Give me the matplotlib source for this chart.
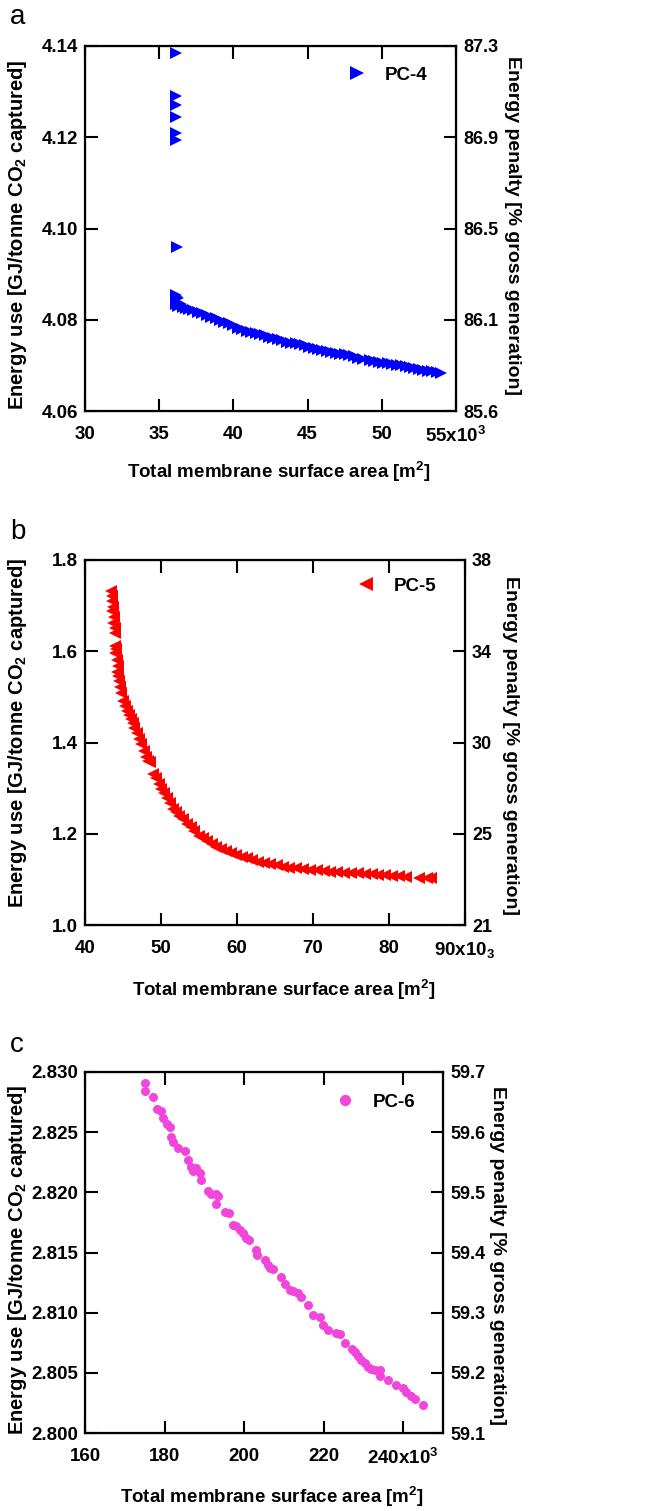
import matplotlib
matplotlib.use("Agg")

import matplotlib.pyplot as plt

plt.rcParams["font.family"] = ["Liberation Sans", "DejaVu Sans"]
plt.rcParams["font.weight"] = "bold"
plt.rcParams["mathtext.fontset"] = "custom"
plt.rcParams["mathtext.rm"] = "Liberation Sans:bold"
plt.rcParams["mathtext.it"] = "Liberation Sans:bold"
plt.rcParams["mathtext.bf"] = "Liberation Sans:bold"

# ─────────────────────────────────────────
#  DATA (area in 10^3 m2, energy use in GJ/t CO2)
# ─────────────────────────────────────────

# panel a : PC-4
pc4_x = [36.1, 36.15, 36.1, 36.15, 36.1, 36.15, 36.2, 36.1, 36.2, 36.3, 36.2,
         36.15, 36.3, 36.5, 36.6, 36.8, 37.0, 37.3, 37.6, 37.9, 38.2, 38.5,
         38.8, 39.1, 39.4, 39.7, 40.0, 40.3, 40.6, 40.9, 41.2, 41.5, 41.8,
         42.1, 42.4, 42.7, 43.0, 43.3, 43.6, 43.9, 44.2, 44.5, 44.8, 45.1,
         45.4, 45.7, 46.0, 46.3, 46.6, 46.9, 47.2, 47.5, 47.8, 48.1, 48.4,
         48.7, 49.2, 49.5, 49.8, 50.1, 50.4, 50.7, 51.0, 51.3, 51.6, 51.9,
         52.2, 52.5, 52.8, 53.1, 53.4, 53.7, 54.0]
pc4_y = [4.1385, 4.1290, 4.1270, 4.1245, 4.1210, 4.1195, 4.0960, 4.0855,
         4.0850, 4.0848, 4.0840, 4.0835, 4.0830, 4.0834, 4.0828, 4.0826,
         4.0824, 4.0822, 4.0818, 4.0814, 4.0810, 4.0806, 4.0803, 4.0800,
         4.0796, 4.0792, 4.0788, 4.0783, 4.0780, 4.0776, 4.0773, 4.0771,
         4.0768, 4.0766, 4.0763, 4.0760, 4.0757, 4.0755, 4.0752, 4.0750,
         4.0748, 4.0746, 4.0744, 4.0740, 4.0738, 4.0736, 4.0734, 4.0732,
         4.0730, 4.0728, 4.0726, 4.0724, 4.0722, 4.0720, 4.0717, 4.0713,
         4.0712, 4.0710, 4.0708, 4.0706, 4.0705, 4.0703, 4.0701, 4.0700,
         4.0698, 4.0697, 4.0695, 4.0692, 4.0689, 4.0688, 4.0687, 4.0686,
         4.0684]

# panel b : PC-5
pc5_x = [43.4, 43.6, 43.5, 43.7, 43.6, 43.8, 43.7, 43.9, 44.0, 43.9, 44.1,
         44.0, 44.2, 44.3, 44.2, 44.4, 44.5, 44.6, 44.8, 45.0, 45.3, 45.5,
         45.8, 46.0, 46.3, 46.5, 46.8, 47.1, 47.4, 47.7, 48.0, 48.3, 48.6,
         49.0, 49.3, 49.7, 50.0, 50.4, 50.8, 51.2, 51.6, 52.0, 52.4, 52.9,
         53.4, 53.9, 54.4, 55.0, 55.5, 56.1, 56.7, 57.3, 57.9, 58.5, 59.2,
         59.9, 60.6, 61.3, 62.0, 62.8, 63.6, 64.4, 65.2, 66.0, 66.9, 67.8,
         68.7, 69.6, 70.5, 71.4, 72.3, 73.2, 74.1, 75.0, 75.9, 76.8, 77.7,
         78.6, 79.5, 80.4, 81.3, 82.2, 84.0, 85.0, 85.5]
pc5_y = [1.732, 1.722, 1.710, 1.698, 1.688, 1.675, 1.662, 1.650, 1.640,
         1.612, 1.605, 1.596, 1.580, 1.568, 1.555, 1.545, 1.535, 1.522,
         1.508, 1.492, 1.480, 1.470, 1.460, 1.452, 1.442, 1.432, 1.420,
         1.408, 1.396, 1.382, 1.368, 1.360, 1.358, 1.330, 1.322, 1.310,
         1.298, 1.290, 1.278, 1.268, 1.255, 1.248, 1.240, 1.232, 1.222,
         1.214, 1.206, 1.196, 1.190, 1.184, 1.178, 1.172, 1.167, 1.162,
         1.157, 1.153, 1.149, 1.146, 1.142, 1.139, 1.136, 1.133, 1.131,
         1.128, 1.126, 1.124, 1.122, 1.121, 1.120, 1.118, 1.117, 1.116,
         1.115, 1.114, 1.113, 1.112, 1.111, 1.110, 1.109, 1.108, 1.107,
         1.105, 1.104, 1.104, 1.103]

# panel c : PC-6
pc6_x = [175.0, 175.0, 177.1, 178.0, 179.2, 179.6, 180.5, 181.3, 181.7,
         182.1, 183.4, 185.1, 185.9, 186.7, 187.1, 187.9, 188.8, 189.2,
         190.9, 191.7, 193.0, 193.4, 193.0, 195.1, 196.2, 197.2, 198.0,
         198.9, 199.7, 200.5, 201.2, 203.0, 203.2, 205.2, 206.0, 206.4,
         207.3, 209.3, 210.2, 211.5, 212.3, 213.6, 214.4, 216.0, 217.3,
         219.0, 219.8, 221.1, 223.2, 224.0, 225.3, 227.0, 227.8, 228.7,
         229.5, 230.3, 231.2, 232.0, 232.8, 234.1, 234.1, 236.2, 238.3,
         239.9, 240.8, 242.0, 242.9, 245.0]
pc6_y = [2.8291, 2.8284, 2.8279, 2.8269, 2.8268, 2.8262, 2.8257, 2.8254,
         2.8246, 2.8242, 2.8237, 2.8234, 2.8227, 2.8221, 2.8218, 2.8220,
         2.8216, 2.8210, 2.8201, 2.8199, 2.8199, 2.8197, 2.8190, 2.8184,
         2.8183, 2.8173, 2.8172, 2.8169, 2.8166, 2.8162, 2.8160, 2.8152,
         2.8148, 2.8144, 2.8140, 2.8137, 2.8136, 2.8130, 2.8124, 2.8119,
         2.8118, 2.8116, 2.8113, 2.8106, 2.8098, 2.8096, 2.8090, 2.8086,
         2.8083, 2.8082, 2.8075, 2.8070, 2.8067, 2.8064, 2.8061, 2.8058,
         2.8055, 2.8053, 2.8052, 2.8052, 2.8047, 2.8044, 2.8040, 2.8037,
         2.8034, 2.8031, 2.8028, 2.8023]

# axis ticks
a_xticks = [30, 35, 40, 45, 50, 55]
a_xlabels = ["30", "35", "40", "45", "50", "55x10$^3$"]
a_yticks = [4.06, 4.08, 4.10, 4.12, 4.14]
a_ylabels = ["4.06", "4.08", "4.10", "4.12", "4.14"]
a_rlabels = ["85.6", "86.1", "86.5", "86.9", "87.3"]

b_xticks = [40, 50, 60, 70, 80, 90]
b_xlabels = ["40", "50", "60", "70", "80", "90x10$_3$"]
b_yticks = [1.0, 1.2, 1.4, 1.6, 1.8]
b_ylabels = ["1.0", "1.2", "1.4", "1.6", "1.8"]
b_rlabels = ["21", "25", "30", "34", "38"]

c_xticks = [160, 180, 200, 220, 240]
c_xlabels = ["160", "180", "200", "220", "240x10$^3$"]
c_yticks = [2.800, 2.805, 2.810, 2.815, 2.820, 2.825, 2.830]
c_ylabels = ["2.800", "2.805", "2.810", "2.815", "2.820", "2.825", "2.830"]
c_rlabels = ["59.1", "59.2", "59.3", "59.4", "59.5", "59.6", "59.7"]

XLABEL = "Total membrane surface area [m$^2$]"
YLABEL = "Energy use [GJ/tonne CO$_2$ captured]"
RLABEL = "Energy penalty [% gross generation]"

# ─────────────────────────────────────────
#  FIGURE
# ─────────────────────────────────────────

W, H = 647, 1511
fig = plt.figure(figsize=(W / 100, H / 100), dpi=100)


def add_ax(l, t, r, b):
    return fig.add_axes([l / W, 1 - b / H, (r - l) / W, (b - t) / H])


def ftext(x, y, s, **kw):
    fig.text(x / W, 1 - y / H, s, **kw)


def panel(box, xs, ys, marker, color, ms, name, xlim, ylim,
          xticks, xlabels, yticks, ylabels, rlabels, leg_anchor):
    ax = add_ax(*box)
    ax.plot(xs, ys, linestyle="none", marker=marker, color=color,
            markersize=ms, markeredgewidth=0, label=name)
    ax.set_xlim(*xlim)
    ax.set_ylim(*ylim)
    ax.set_xticks(xticks)
    ax.set_xticklabels(xlabels)
    ax.set_yticks(yticks)
    ax.set_yticklabels(ylabels)
    ax.tick_params(direction="in", length=9, width=1.5, top=True)
    ax.tick_params(axis="x", pad=11, labelsize=13.5)
    ax.tick_params(axis="y", pad=5, labelsize=13.5)
    for sp in ax.spines.values():
        sp.set_linewidth(1.6)

    ax2 = ax.twinx()
    ax2.set_ylim(*ylim)
    ax2.set_yticks(yticks)
    ax2.set_yticklabels(rlabels)
    ax2.tick_params(direction="in", length=9, width=1.5, labelsize=13,
                    pad=5)

    ax.legend(loc="center right", bbox_to_anchor=leg_anchor, frameon=False,
              borderpad=0, handlelength=1.4, handletextpad=0.8,
              markerscale=1.25, prop={"weight": "bold", "size": 13.5})
    return ax


# ── Panel a ──────────────────────────────
panel((85, 46, 456, 411), pc4_x, pc4_y, ">", "#0000FF", 8, "PC-4",
      (30, 55), (4.06, 4.14), a_xticks, a_xlabels, a_yticks, a_ylabels,
      a_rlabels, ((437 - 85) / 371, 1 - (75 - 46) / 365))
ftext(10, 30, "a", fontsize=20, fontweight="normal", ha="left", va="bottom")
ftext(279, 472, XLABEL, fontsize=13.5, ha="center", va="center")
ftext(18, 235, YLABEL, fontsize=14.5, rotation=90, ha="center", va="center")
ftext(512, 226, RLABEL, fontsize=14, rotation=270, ha="center", va="center")

# ── Panel b ──────────────────────────────
panel((85, 560, 465, 925), pc5_x, pc5_y, "<", "#FF0000", 8, "PC-5",
      (40, 90), (1.0, 1.8), b_xticks, b_xlabels, b_yticks, b_ylabels,
      b_rlabels, ((446 - 85) / 380, 1 - (586 - 560) / 365))
ftext(10, 545, "b", fontsize=20, fontweight="normal", ha="left", va="bottom")
ftext(284, 990, XLABEL, fontsize=13.5, ha="center", va="center")
ftext(18, 733, YLABEL, fontsize=14.5, rotation=90, ha="center", va="center")
ftext(510, 745, RLABEL, fontsize=14, rotation=270, ha="center", va="center")

# ── Panel c ──────────────────────────────
panel((85, 1072, 443, 1433), pc6_x, pc6_y, "o", "#F046DC", 6.5, "PC-6",
      (160, 250), (2.800, 2.830), c_xticks, c_xlabels, c_yticks, c_ylabels,
      c_rlabels, ((425 - 85) / 358, 1 - (1102 - 1072) / 361))
ftext(10, 1058, "c", fontsize=20, fontweight="normal", ha="left", va="bottom")
ftext(272, 1497, XLABEL, fontsize=13.5, ha="center", va="center")
ftext(18, 1260, YLABEL, fontsize=14.5, rotation=90, ha="center", va="center")
ftext(497, 1255, RLABEL, fontsize=14, rotation=270, ha="center", va="center")

fig.savefig("out.png", dpi=100, facecolor="white")
plt.close(fig)
